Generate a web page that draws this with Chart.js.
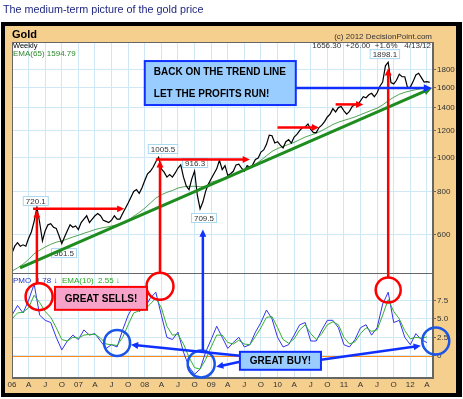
<!DOCTYPE html>
<html>
<head>
<meta charset="utf-8">
<script src="https://cdn.jsdelivr.net/npm/chart.js@4.4.3/dist/chart.umd.min.js"></script>
<style>
  html, body { margin: 0; padding: 0; background: #fff; }
  #wrap { position: relative; width: 463px; height: 399px; }
</style>
</head>
<body>
<div id="wrap"><canvas id="goldChart" width="463" height="399"></canvas></div>
<script>
// Weekly gold chart at two points per month (Jan 2006 - Apr 2012)
const title = 'The medium-term picture of the gold price';

const quarterLabels = ['06','A','J','O','07','A','J','O','08','A','J','O','09','A','J','O',
                       '10','A','J','O','11','A','J','O','12','A'];

const priceTicks = [600, 800, 1000, 1200, 1400, 1600, 1800];
const pmoTicks = [0, 2.5, 5, 7.5];

// gold close, two per month
const goldPrice = [
  530, 555, 568, 555, 560, 555, 585, 610, 655, 720, 650, 575, 615, 640, 645, 630, 625, 595, 565, 590, 615, 640, 630, 635,
  620, 650, 665, 680, 650, 665, 680, 690, 680, 660, 655, 650, 660, 680, 665, 665, 690, 715, 740, 770, 800, 810, 790, 820,
  860, 900, 915, 940, 975, 1005, 930, 910, 880, 895, 880, 905, 935, 955, 880, 830, 810, 870, 916, 780, 712, 745, 800, 840,
  870, 900, 930, 985, 925, 950, 890, 900, 915, 955, 960, 935, 915, 950, 940, 955, 990, 1000, 1040, 1055, 1095, 1165, 1160, 1105,
  1115, 1090, 1070, 1115, 1130, 1105, 1150, 1170, 1200, 1225, 1230, 1255, 1210, 1185, 1185, 1225, 1245, 1275, 1315, 1340, 1390, 1360, 1400, 1410,
  1370, 1340, 1365, 1410, 1430, 1425, 1465, 1505, 1495, 1525, 1540, 1505, 1545, 1615, 1660, 1850, 1895, 1655, 1640, 1680, 1750, 1720, 1720, 1600,
  1605, 1665, 1740, 1760, 1710, 1660, 1665, 1656
];

// EMA(65) of price, one per month
const goldEma65 = [
  470, 480, 492, 508, 528, 540, 552, 562, 570, 575, 582, 590,
  597, 605, 612, 620, 626, 630, 635, 640, 648, 660, 678, 695,
  715, 740, 765, 782, 795, 805, 818, 825, 828, 828, 825, 828,
  850, 860, 870, 880, 895, 910, 925, 940, 960, 985, 1015, 1045,
  1065, 1080, 1095, 1110, 1130, 1150, 1165, 1180, 1200, 1225, 1250, 1270,
  1285, 1300, 1315, 1335, 1355, 1375, 1395, 1425, 1465, 1500, 1530, 1550,
  1565, 1578, 1588, 1595
];

// PMO and its EMA(10), one per month
const pmo = [
  5.5, 6.8, 5.8, 7.5, 9.7, 5.5, 4.8, 4.5, 2.5, 0.8, 2.0, 2.8,
  2.2, 3.5, 2.8, 3.0, 2.0, 1.0, 1.5, 1.2, 3.5, 5.5, 6.8, 6.0,
  6.5, 7.8, 8.6, 5.5, 2.5, 2.2, 3.2, 0.5, -1.5, -2.5, -1.8, 0.5,
  2.2, 4.0, 2.5, 1.0, 1.8, 2.5, 1.2, 1.5, 3.2, 4.5, 6.2, 5.0,
  2.5, 1.2, 1.5, 2.8, 4.2, 4.5, 2.0, 2.0, 3.5, 4.8, 4.8, 3.8,
  1.5, 1.2, 2.2, 3.8, 4.2, 2.8, 3.8, 7.0, 8.6, 4.5, 4.8, 2.5,
  1.5, 3.0, 2.2, 1.78
];
const pmoEma10 = [
  5.0, 5.8, 5.9, 6.5, 8.2, 7.2, 6.0, 5.2, 3.8, 2.2, 2.0, 2.5,
  2.4, 2.8, 2.9, 2.9, 2.4, 1.6, 1.5, 1.4, 2.5, 4.2, 5.8, 6.1,
  6.3, 7.0, 7.8, 6.5, 4.0, 2.8, 2.9, 1.6, -0.2, -1.6, -1.8, -0.5,
  1.2, 2.8, 2.8, 1.8, 1.6, 2.1, 1.6, 1.5, 2.6, 3.8, 5.2, 5.3,
  3.8, 2.2, 1.7, 2.3, 3.5, 4.2, 3.0, 2.2, 3.0, 4.2, 4.6, 4.2,
  2.5, 1.6, 1.9, 3.0, 3.8, 3.3, 3.5, 5.5, 7.6, 6.0, 5.0, 3.4,
  2.3, 2.5, 2.4, 2.55
];

// labelled highs / lows: [month, price the label sits at, text]
const peakLabels = [
  [4.3, 750, '720.1'], [27.3, 1062, '1005.5'], [33.1, 967, '916.3'],
  [34.7, 670, '709.5'], [9.4, 530, '561.5'], [67.4, 2000, '1898.1']
];

const gridBlue = '#cfe8f6';

function arrow(ctx, x1, y1, x2, y2, color, w, head) {
  const ang = Math.atan2(y2 - y1, x2 - x1);
  ctx.strokeStyle = color;
  ctx.fillStyle = color;
  ctx.lineWidth = w;
  ctx.beginPath();
  ctx.moveTo(x1, y1);
  ctx.lineTo(x2 - Math.cos(ang) * head * 0.7, y2 - Math.sin(ang) * head * 0.7);
  ctx.stroke();
  ctx.beginPath();
  ctx.moveTo(x2, y2);
  ctx.lineTo(x2 - head * Math.cos(ang - 0.45), y2 - head * Math.sin(ang - 0.45));
  ctx.lineTo(x2 - head * Math.cos(ang + 0.45), y2 - head * Math.sin(ang + 0.45));
  ctx.closePath();
  ctx.fill();
}

function ring(ctx, x, y, r, color) {
  ctx.strokeStyle = color;
  ctx.lineWidth = 2.5;
  ctx.beginPath();
  ctx.arc(x, y, r, 0, Math.PI * 2);
  ctx.stroke();
}

function noteBox(ctx, x1, y1, x2, y2, fill, stroke, lines, align) {
  ctx.fillStyle = fill;
  ctx.fillRect(x1, y1, x2 - x1, y2 - y1);
  ctx.strokeStyle = stroke;
  ctx.lineWidth = 2;
  ctx.strokeRect(x1, y1, x2 - x1, y2 - y1);
  ctx.fillStyle = '#000';
  ctx.font = 'bold 10px Arial';
  ctx.textBaseline = 'middle';
  ctx.textAlign = align;
  const h = (y2 - y1) / lines.length;
  lines.forEach((t, i) => {
    const tx = align === 'center' ? (x1 + x2) / 2 : x1 + 9;
    ctx.fillText(t, tx, y1 + h * (i + 0.5) + 0.5);
  });
}

const decor = {
  id: 'decor',
  beforeDraw(chart) {
    const ctx = chart.ctx, a = chart.chartArea;
    ctx.save();
    ctx.fillStyle = '#fff';
    ctx.fillRect(0, 0, 463, 399);
    ctx.fillStyle = '#202880';
    ctx.font = '10.8px Arial';
    ctx.textBaseline = 'alphabetic';
    ctx.fillText(title, 3, 13);
    ctx.fillStyle = '#000';
    ctx.fillRect(1, 22, 461, 375);
    ctx.fillStyle = '#f5cf8e';
    ctx.fillRect(5, 26, 451, 367);
    ctx.fillStyle = '#fff';
    ctx.fillRect(a.left, a.top, a.width, a.height);
    ctx.fillStyle = '#000';
    ctx.font = 'bold 11px Arial';
    ctx.fillText('Gold', 12, 38);
    ctx.fillStyle = '#333';
    ctx.font = '8px Arial';
    ctx.textAlign = 'right';
    ctx.fillText('(c) 2012 DecisionPoint.com', a.right - 1, 39);
    ctx.restore();
  },
  beforeDatasetsDraw(chart) {
    const ctx = chart.ctx, a = chart.chartArea, m = chart.scales.yM;
    ctx.save();
    ctx.strokeStyle = '#ff8c1a';
    ctx.lineWidth = 1;
    const y0 = Math.round(m.getPixelForValue(0)) + 0.5;
    ctx.beginPath();
    ctx.moveTo(a.left, y0);
    ctx.lineTo(a.right, y0);
    ctx.stroke();
    ctx.restore();
  },
  afterDraw(chart) {
    const ctx = chart.ctx, a = chart.chartArea;
    const sx = chart.scales.x, sp = chart.scales.yP, sm = chart.scales.yM;
    const X = v => sx.getPixelForValue(v);
    const P = v => sp.getPixelForValue(v);
    const M = v => sm.getPixelForValue(v);
    ctx.save();

    // frame of the two panes
    ctx.strokeStyle = '#666';
    ctx.lineWidth = 1;
    ctx.strokeRect(a.left + 0.5, a.top + 0.5, a.width - 1, a.height - 1);
    ctx.beginPath();
    ctx.moveTo(a.left, Math.round(sm.top) + 0.5);
    ctx.lineTo(a.right, Math.round(sm.top) + 0.5);
    ctx.stroke();

    // legends
    ctx.textBaseline = 'alphabetic';
    ctx.textAlign = 'left';
    ctx.font = '7.5px Arial';
    ctx.fillStyle = '#000';
    ctx.fillText('Weekly', a.left + 1, a.top + 6);
    ctx.font = '8px Arial';
    ctx.fillStyle = '#2a8a2a';
    ctx.fillText('EMA(65) 1594.79', a.left + 1, a.top + 14);
    ctx.fillStyle = '#333';
    ctx.textAlign = 'right';
    ctx.fillText('1656.30  +26.00  +1.6%   4/13/12', a.right - 2, a.top + 6);
    ctx.textAlign = 'left';
    const ly = sm.top + 10;
    ctx.fillStyle = '#2233cc';
    ctx.fillText('PMO  1.78 \u2193', a.left + 1, ly);
    ctx.fillStyle = '#22aa22';
    ctx.fillText('EMA(10)  2.55 \u2193', a.left + 50, ly);

    // value labels at highs and lows
    ctx.font = '8px Arial';
    ctx.textAlign = 'center';
    ctx.textBaseline = 'middle';
    peakLabels.forEach(([mo, pr, t]) => {
      const cx = X(mo), cy = P(pr);
      const w = ctx.measureText(t).width + 6;
      ctx.fillStyle = '#fff';
      ctx.fillRect(cx - w / 2, cy - 5, w, 10);
      ctx.strokeStyle = '#a8d8f0';
      ctx.lineWidth = 1;
      ctx.strokeRect(cx - w / 2 + 0.5, cy - 4.5, w - 1, 9);
      ctx.fillStyle = '#333';
      ctx.fillText(t, cx, cy + 0.5);
    });

    // trend line
    arrow(ctx, X(1.45), P(480), X(75.9), P(1595), '#1e8c1e', 3, 9);

    // red: resistance arrows, sell circles
    const red = '#ff0000';
    arrow(ctx, X(3.8), P(712), X(20.3), P(712), red, 2.5, 8);
    arrow(ctx, X(26.0), P(990), X(43.0), P(990), red, 2.5, 8);
    arrow(ctx, X(48.0), P(1225), X(55.5), P(1225), red, 2.5, 8);
    arrow(ctx, X(58.5), P(1430), X(63.5), P(1430), red, 2.5, 8);
    arrow(ctx, X(4.5), M(9.7), X(4.5), P(705), red, 2.5, 8);
    arrow(ctx, X(26.75), M(11.1), X(26.75), P(985), red, 2.5, 8);
    arrow(ctx, X(68), M(10.5), X(68), P(1820), red, 2.5, 8);
    ring(ctx, X(4.9), M(8.0), 13.5, red);
    ring(ctx, X(26.75), M(9.4), 13.5, red);
    ring(ctx, X(68), M(8.9), 12.5, red);
    noteBox(ctx, X(7.77), M(9.32), X(24.4), M(6.22), '#f7a3c9', red, ['GREAT SELLS!'], 'center');

    // blue: buy circles and trend line note
    const blue = '#1a55e8';
    ring(ctx, X(19), M(1.75), 13, blue);
    ring(ctx, X(34.2), M(-1.1), 13.5, blue);
    ring(ctx, X(76.6), M(2.0), 13.5, blue);
    arrow(ctx, X(34.5), M(0.74), X(34.5), P(620), '#1030ff', 2.5, 8);
    arrow(ctx, X(41.2), M(0.0), X(21.5), M(1.49), '#1030ff', 2.5, 8);
    arrow(ctx, X(41.2), M(-0.81), X(36.9), M(-1.49), '#1030ff', 2.5, 8);
    arrow(ctx, X(55.85), M(-0.54), X(73.9), M(1.35), '#1030ff', 2.5, 8);
    noteBox(ctx, X(41.2), M(0.54), X(55.85), M(-1.89), '#99ccff', '#1030ff', ['GREAT BUY!'], 'center');
    arrow(ctx, X(51.3), P(1595), X(75.9), P(1595), '#1030ff', 2.5, 9);
    noteBox(ctx, X(24.0), P(1910), X(51.3), P(1424), '#99ccff', '#1030ff',
      ['BACK ON THE TREND LINE', 'LET THE PROFITS RUN!'], 'left');

    ctx.restore();
  }
};

const fitY = s => { s.width = 23; };

new Chart(document.getElementById('goldChart'), {
  type: 'line',
  data: {
    datasets: [
      {
        label: 'Gold',
        data: goldPrice.map((v, i) => ({ x: i / 2, y: v })),
        yAxisID: 'yP',
        borderColor: '#000',
        borderWidth: 1.2
      },
      {
        label: 'EMA(65)',
        data: goldEma65.map((v, i) => ({ x: i, y: v })),
        yAxisID: 'yP',
        borderColor: '#2a8a2a',
        borderWidth: 0.8
      },
      {
        label: 'EMA(10)',
        data: pmoEma10.map((v, i) => ({ x: i, y: v })),
        yAxisID: 'yM',
        borderColor: '#33b033',
        borderWidth: 1
      },
      {
        label: 'PMO',
        data: pmo.map((v, i) => ({ x: i, y: v })),
        yAxisID: 'yM',
        borderColor: '#3333ee',
        borderWidth: 1
      }
    ]
  },
  options: {
    responsive: false,
    animation: false,
    devicePixelRatio: 1,
    layout: { padding: { left: 12, top: 42, right: 7, bottom: 3 } },
    elements: { point: { radius: 0 }, line: { tension: 0 } },
    plugins: { legend: { display: false }, tooltip: { enabled: false } },
    scales: {
      x: {
        type: 'linear',
        min: 0,
        max: 76.1,
        afterBuildTicks: s => { s.ticks = quarterLabels.map((t, i) => ({ value: i * 3 })); },
        afterFit: s => { s.height = 18; },
        ticks: {
          autoSkip: false,
          maxRotation: 0,
          padding: 2,
          color: '#333',
          font: { family: 'Arial', size: 8 },
          callback: v => quarterLabels[Math.round(v / 3)]
        },
        grid: { color: gridBlue, drawTicks: false },
        border: { color: '#666' }
      },
      yP: {
        type: 'logarithmic',
        position: 'right',
        stack: 'panes',
        stackWeight: 231,
        min: 464,
        max: 2169,
        afterBuildTicks: s => { s.ticks = priceTicks.map(v => ({ value: v })); },
        afterFit: fitY,
        ticks: {
          padding: 1,
          color: '#333',
          font: { family: 'Arial', size: 8 },
          callback: v => String(v)
        },
        grid: { color: gridBlue, tickLength: 3, tickColor: '#666' },
        border: { color: '#666' }
      },
      yM: {
        type: 'linear',
        position: 'right',
        stack: 'panes',
        stackWeight: 105,
        min: -3,
        max: 11.2,
        afterBuildTicks: s => { s.ticks = pmoTicks.map(v => ({ value: v })); },
        afterFit: fitY,
        ticks: {
          padding: 1,
          color: '#333',
          font: { family: 'Arial', size: 8 },
          callback: v => (v === 0 ? '0' : v.toFixed(1))
        },
        grid: { color: gridBlue, tickLength: 3, tickColor: '#666' },
        border: { color: '#666' }
      }
    }
  },
  plugins: [decor]
});
</script>
</body>
</html>
